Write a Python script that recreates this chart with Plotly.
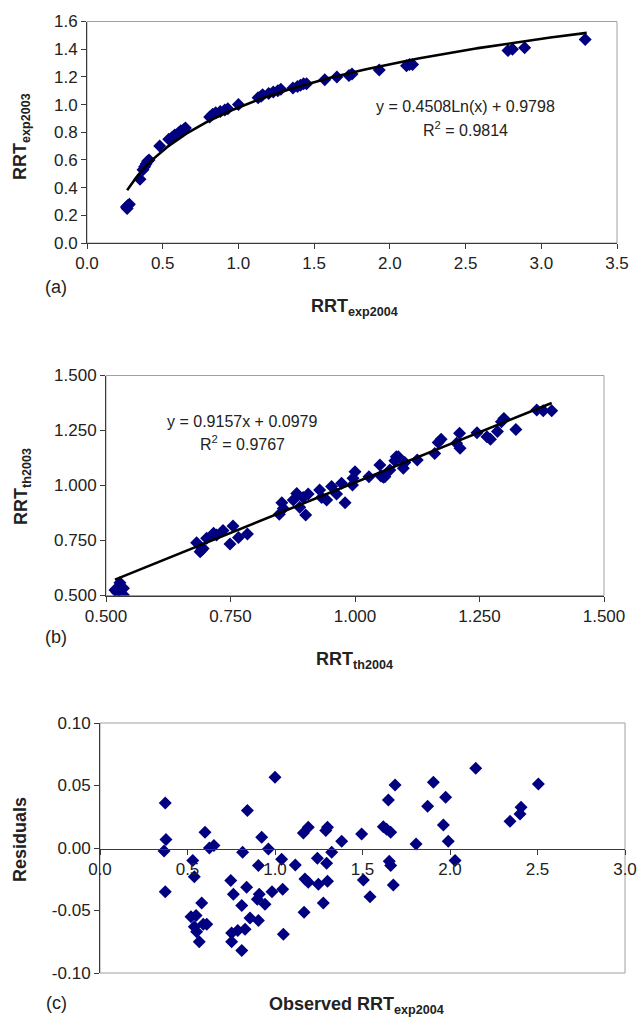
import numpy as np
import plotly.graph_objects as go

# ---------------- data ----------------
# Panel (a): RRT exp2004 vs RRT exp2003
a_x = [0.26, 0.265, 0.27, 0.28, 0.35, 0.37, 0.38, 0.39, 0.40, 0.41, 0.48, 0.54, 0.56, 0.57,
       0.58, 0.60, 0.61, 0.62, 0.64, 0.65, 0.81, 0.83, 0.85, 0.88, 0.91, 0.93, 1.00, 1.13,
       1.15, 1.16, 1.20, 1.23, 1.26, 1.28, 1.36, 1.39, 1.41, 1.43, 1.45, 1.57, 1.65, 1.73,
       1.75, 1.93, 2.11, 2.13, 2.15, 2.78, 2.81, 2.89, 3.29]
a_y = [0.26, 0.25, 0.27, 0.28, 0.46, 0.53, 0.55, 0.57, 0.59, 0.60, 0.70, 0.75, 0.76, 0.77,
       0.78, 0.79, 0.80, 0.81, 0.82, 0.83, 0.91, 0.93, 0.94, 0.95, 0.96, 0.97, 1.00, 1.05,
       1.06, 1.07, 1.08, 1.09, 1.10, 1.11, 1.12, 1.13, 1.14, 1.15, 1.15, 1.18, 1.20, 1.21,
       1.22, 1.25, 1.28, 1.29, 1.29, 1.39, 1.40, 1.41, 1.47]
a_coef = [0.4508, 0.9798]          # y = a*Ln(x) + b
a_eq = ["y = 0.4508Ln(x) + 0.9798", "R<sup>2</sup> = 0.9814"]

# Panel (b): RRT th2004 vs RRT th2003
b_x = [0.518, 0.522, 0.528, 0.535, 0.535, 0.682, 0.689, 0.692, 0.695, 0.702, 0.716, 0.722,
       0.735, 0.749, 0.755, 0.766, 0.784, 0.848, 0.853, 0.856, 0.876, 0.883, 0.889, 0.896,
       0.901, 0.906, 0.929, 0.933, 0.943, 0.953, 0.963, 0.973, 0.980, 0.995, 0.996, 1.000,
       1.028, 1.050, 1.052, 1.057, 1.060, 1.070, 1.080, 1.083, 1.087, 1.097, 1.100, 1.125,
       1.160, 1.167, 1.173, 1.204, 1.210, 1.211, 1.245, 1.265, 1.272, 1.286, 1.294, 1.299,
       1.323, 1.365, 1.378, 1.395]
b_y = [0.525, 0.515, 0.558, 0.533, 0.502, 0.740, 0.699, 0.707, 0.714, 0.760, 0.783, 0.775,
       0.795, 0.734, 0.816, 0.764, 0.780, 0.869, 0.922, 0.896, 0.934, 0.964, 0.901, 0.946,
       0.866, 0.961, 0.980, 0.946, 0.934, 0.995, 0.961, 1.010, 0.922, 1.002, 1.033, 1.063,
       1.040, 1.093, 1.043, 1.037, 1.040, 1.070, 1.113, 1.131, 1.131, 1.078, 1.104, 1.116,
       1.146, 1.195, 1.210, 1.192, 1.237, 1.169, 1.240, 1.222, 1.210, 1.245, 1.290, 1.305,
       1.255, 1.343, 1.340, 1.340]
b_coef = [0.9157, 0.0979]          # y = a*x + b
b_eq = ["y = 0.9157x + 0.0979", "R<sup>2</sup> = 0.9767"]

# Panel (c): residuals vs observed RRT exp2004
c_x = [0.373, 0.377, 0.366, 0.373, 0.530, 0.539, 0.520, 0.549, 0.539, 0.552, 0.567, 0.581,
       0.590, 0.610, 0.600, 0.625, 0.651, 0.747, 0.762, 0.752, 0.752, 0.787, 0.829, 0.810,
       0.810, 0.815, 0.842, 0.838, 0.857, 0.905, 0.910, 0.905, 0.899, 0.924, 0.943, 0.962,
       0.983, 1.000, 1.038, 1.044, 1.048, 1.116, 1.162, 1.190, 1.171, 1.190, 1.166, 1.242,
       1.248, 1.276, 1.290, 1.300, 1.295, 1.300, 1.324, 1.381, 1.495, 1.505, 1.543, 1.619,
       1.638, 1.661, 1.648, 1.653, 1.661, 1.676, 1.686, 1.806, 1.872, 1.905, 1.962, 1.975,
       1.990, 2.029, 2.147, 2.343, 2.400, 2.406, 2.505]
c_y = [0.036, 0.0067, -0.0024, -0.035, -0.010, -0.023, -0.055, -0.054, -0.063, -0.067,
       -0.075, -0.044, -0.061, -0.061, 0.0125, 0.0, 0.002, -0.026, -0.037, -0.068, -0.075,
       -0.066, -0.065, -0.082, -0.046, -0.0035, 0.030, -0.0315, -0.056, -0.014, -0.037,
       -0.058, -0.041, 0.0085, -0.045, -0.0008, -0.035, 0.0565, -0.009, -0.033, -0.069,
       -0.0136, 0.012, 0.0165, -0.0248, -0.0275, -0.0515, -0.0083, -0.029, -0.044, 0.0139,
       0.0165, -0.0123, -0.0267, -0.0035, 0.0053, 0.0112, -0.0256, -0.039, 0.017, 0.015,
       0.0125, 0.0384, -0.0107, -0.014, -0.0296, 0.0504, 0.0032, 0.0333, 0.0525, 0.0184,
       0.0405, 0.0053, -0.0101, 0.0637, 0.0213, 0.0272, 0.0325, 0.0512]

# tick labels
a_xticks = [0.0, 0.5, 1.0, 1.5, 2.0, 2.5, 3.0, 3.5]
a_xlabels = ["0.0", "0.5", "1.0", "1.5", "2.0", "2.5", "3.0", "3.5"]
a_yticks = [0.0, 0.2, 0.4, 0.6, 0.8, 1.0, 1.2, 1.4, 1.6]
a_ylabels = ["0.0", "0.2", "0.4", "0.6", "0.8", "1.0", "1.2", "1.4", "1.6"]
b_ticks = [0.5, 0.75, 1.0, 1.25, 1.5]
b_labels = ["0.500", "0.750", "1.000", "1.250", "1.500"]
c_xticks = [0.0, 0.5, 1.0, 1.5, 2.0, 2.5, 3.0]
c_xlabels = ["0.0", "0.5", "1.0", "1.5", "2.0", "2.5", "3.0"]
c_yticks = [-0.10, -0.05, 0.0, 0.05, 0.10]
c_ylabels = ["-0.10", "-0.05", "0.00", "0.05", "0.10"]

# ---------------- figure ----------------
W, H = 639, 1019
FONT = "Liberation Sans, Arial, sans-serif"
NAVY = "#000080"
AXC = "#3a3a3a"
BORDER = "#a0a0a0"
TXT = "#222222"


def px(xp):
    return xp / W


def py(yp):
    return 1 - yp / H


fig = go.Figure()
mk = dict(symbol="diamond", size=10, color=NAVY, line=dict(width=0))

# (a)
fig.add_trace(go.Scatter(x=a_x, y=a_y, mode="markers", marker=mk, xaxis="x", yaxis="y",
                         showlegend=False))
ax_line = np.linspace(min(a_x) + 0.005, max(a_x) + 0.01, 200)
fig.add_trace(go.Scatter(x=ax_line, y=a_coef[0] * np.log(ax_line) + a_coef[1], mode="lines",
                         line=dict(color="black", width=2.6), xaxis="x", yaxis="y",
                         showlegend=False))
# (b)
fig.add_trace(go.Scatter(x=b_x, y=b_y, mode="markers", marker=mk, xaxis="x2", yaxis="y2",
                         showlegend=False))
bx_line = np.array([min(b_x), max(b_x)])
fig.add_trace(go.Scatter(x=bx_line, y=b_coef[0] * bx_line + b_coef[1], mode="lines",
                         line=dict(color="black", width=2.6), xaxis="x2", yaxis="y2",
                         showlegend=False))
# (c)
fig.add_trace(go.Scatter(x=c_x, y=c_y, mode="markers", marker=mk, xaxis="x3", yaxis="y3",
                         showlegend=False))

tickfont = dict(family=FONT, size=17, color=TXT)
common = dict(showgrid=False, zeroline=False, showline=True, linecolor=AXC, linewidth=1,
              ticks="outside", ticklen=5, tickcolor=AXC, tickfont=tickfont, fixedrange=True,
              automargin=False)

fig.update_layout(
    width=W, height=H, margin=dict(l=0, r=0, t=0, b=0, autoexpand=False),
    paper_bgcolor="white", plot_bgcolor="white",
    xaxis=dict(domain=[px(87), px(617)], range=[0, 3.5], tickvals=a_xticks,
               ticktext=a_xlabels, anchor="y", **common),
    yaxis=dict(domain=[py(243), py(21.5)], range=[0, 1.6], tickvals=a_yticks,
               ticktext=a_ylabels, anchor="x", **common),
    xaxis2=dict(domain=[px(106), px(604)], range=[0.5, 1.5], tickvals=b_ticks,
                ticktext=b_labels, anchor="y2", **common),
    yaxis2=dict(domain=[py(595.5), py(375.5)], range=[0.5, 1.5], tickvals=b_ticks,
                ticktext=b_labels, anchor="x2", **common),
    xaxis3=dict(domain=[px(100), px(625)], range=[0, 3.0], tickvals=c_xticks,
                ticktext=c_xlabels, anchor="free", position=py(849), **common),
    yaxis3=dict(domain=[py(973), py(723)], range=[-0.1, 0.1], tickvals=c_yticks,
                ticktext=c_ylabels, anchor="x3", **common),
)

# plot-area borders
for xr, yr in (("x", "y"), ("x2", "y2"), ("x3", "y3")):
    fig.add_shape(type="rect", xref=f"{xr} domain", yref=f"{yr} domain", x0=0, x1=1, y0=0, y1=1,
                  line=dict(color=BORDER, width=1), layer="below")

ann = []
eqfont = dict(family=FONT, size=16, color=TXT)
# equations
ann.append(dict(x=px(465), y=py(106), text=a_eq[0]))
ann.append(dict(x=px(465), y=py(129), text=a_eq[1]))
ann.append(dict(x=px(242), y=py(421), text=b_eq[0]))
ann.append(dict(x=px(242), y=py(443), text=b_eq[1]))
for a in ann:
    a.update(xref="paper", yref="paper", showarrow=False, font=eqfont, xanchor="center",
             yanchor="middle")

titfont = dict(family=FONT, size=18, color=TXT)
titles = [
    (354, 308, "<b>RRT<sub>exp2004</sub></b>", 0),
    (22, 137, "<b>RRT<sub>exp2003</sub></b>", -90),
    (354, 660, "<b>RRT<sub>th2004</sub></b>", 0),
    (22, 487, "<b>RRT<sub>th2003</sub></b>", -90),
    (356, 1005, "<b>Observed RRT<sub>exp2004</sub></b>", 0),
    (20, 840, "<b>Residuals</b>", -90),
]
for x0, y0, t, ang in titles:
    ann.append(dict(x=px(x0), y=py(y0), text=t, textangle=ang, xref="paper", yref="paper",
                    showarrow=False, font=titfont, xanchor="center", yanchor="middle"))

lblfont = dict(family=FONT, size=18, color=TXT)
for x0, y0, t in ((56, 287, "(a)"), (56, 637, "(b)"), (56, 1003, "(c)")):
    ann.append(dict(x=px(x0), y=py(y0), text=t, xref="paper", yref="paper", showarrow=False,
                    font=lblfont, xanchor="center", yanchor="middle"))

fig.update_layout(annotations=ann)

page_js = ("document.documentElement.style.margin='0';document.body.style.margin='0';"
           "document.body.style.padding='0';document.body.style.overflow='hidden';"
           "document.documentElement.style.overflow='hidden';")
fig.write_html("out.html", post_script=page_js, config={"displayModeBar": False})
